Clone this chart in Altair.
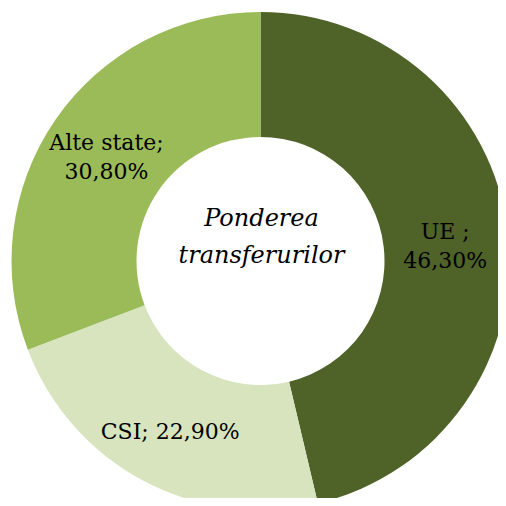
import altair as alt
import pandas as pd

categories = ["UE", "CSI", "Alte state"]
shares = [46.3, 22.9, 30.8]
labels = ["UE ;\n46,30%", "CSI; 22,90%", "Alte state;\n30,80%"]
colors = ["#4F6228", "#D7E4BD", "#9BBB59"]
center_title = "Ponderea\ntransferurilor"

df = pd.DataFrame({"cat": categories, "val": shares, "label": labels, "ord": list(range(len(categories)))})

CX, CY = 252.5, 253
base = alt.Chart(df).encode(
    theta=alt.Theta("val:Q", stack=True),
    order=alt.Order("ord:Q"),
)

arcs = base.mark_arc(outerRadius=249, innerRadius=124).encode(
    color=alt.Color("cat:N", scale=alt.Scale(domain=categories, range=colors), legend=None),
    x=alt.value(CX), y=alt.value(CY),
)

def label_layer(cat, r, dy):
    return base.mark_text(radius=r, dy=dy, font="DejaVu Serif", fontSize=22, lineBreak="\n",
                          color="black", align="center", baseline="middle", lineHeight=29).encode(
        text="label:N",
        x=alt.value(CX), y=alt.value(CY),
        opacity=alt.condition(alt.datum.cat == cat, alt.value(1), alt.value(0)),
    )

texts = label_layer("UE", 186, -7) + label_layer("CSI", 193, 0) + label_layer("Alte state", 187, -12)

center = alt.Chart(pd.DataFrame({"t": [center_title]})).mark_text(
    font="DejaVu Serif", fontSize=24, fontStyle="italic", lineBreak="\n",
    align="center", baseline="middle", lineHeight=37, color="black"
).encode(text="t:N", x=alt.value(CX + 1), y=alt.value(CY - 42))

chart = (arcs + texts + center).properties(
    width=490, height=490, padding=0, autosize=alt.AutoSizeParams(type="none")
).configure_view(stroke=None)

chart.save("out.html", embed_options={"renderer": "svg", "actions": False})
